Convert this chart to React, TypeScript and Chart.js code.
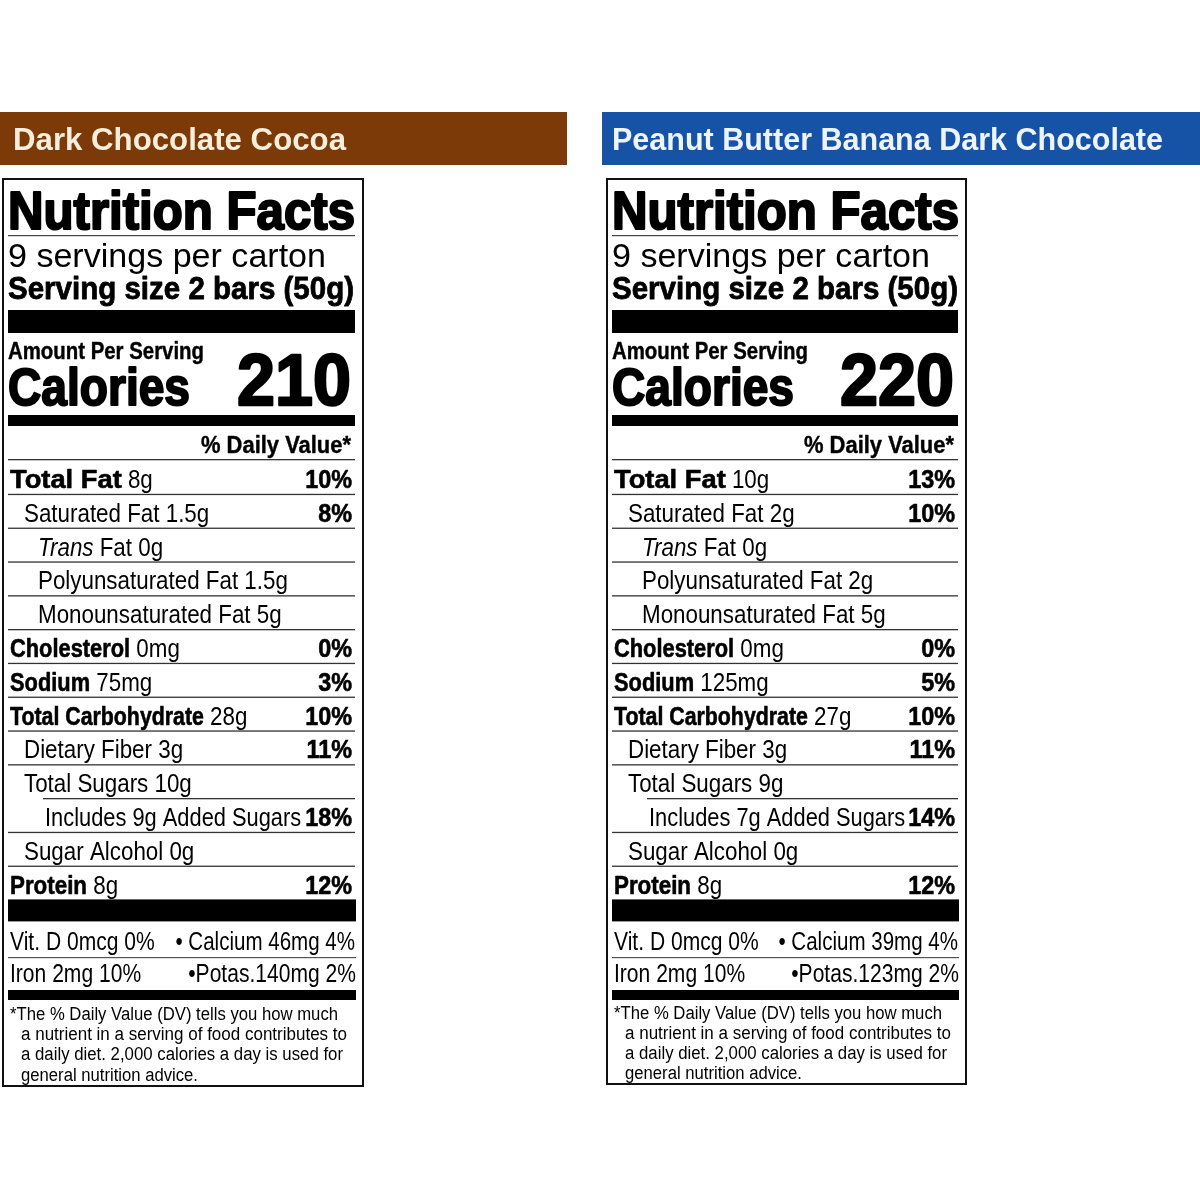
import React, { useEffect, useRef } from "react";
import { Chart, registerables } from "chart.js";

Chart.register(...registerables);

// ---- data ----
const PRODUCTS = ["Dark Chocolate Cocoa", "Peanut Butter Banana Dark Chocolate"];
const CALORIES = [210, 220];
const SERVINGS_PER_CARTON = [9, 9];
const SERVING_SIZE = ["2 bars (50g)", "2 bars (50g)"];

const NUTRIENTS = [
  "Total Fat",
  "Saturated Fat",
  "Trans Fat",
  "Polyunsaturated Fat",
  "Monounsaturated Fat",
  "Cholesterol",
  "Sodium",
  "Total Carbohydrate",
  "Dietary Fiber",
  "Total Sugars",
  "Added Sugars",
  "Sugar Alcohol",
  "Protein",
];
const AMOUNTS_COCOA = ["8g", "1.5g", "0g", "1.5g", "5g", "0mg", "75mg", "28g", "3g", "10g", "9g", "0g", "8g"];
const AMOUNTS_PB = ["10g", "2g", "0g", "2g", "5g", "0mg", "125mg", "27g", "3g", "9g", "7g", "0g", "8g"];
const DV_COCOA = [10, 8, null, null, null, 0, 3, 10, 11, null, 18, null, 12];
const DV_PB = [13, 10, null, null, null, 0, 5, 10, 11, null, 14, null, 12];

const MINERALS = ["Vit. D", "Calcium", "Iron", "Potas."];
const MINERAL_AMOUNTS_COCOA = ["0mcg", "46mg", "2mg", "140mg"];
const MINERAL_AMOUNTS_PB = ["0mcg", "39mg", "2mg", "123mg"];
const MINERAL_DV_COCOA = [0, 4, 10, 2];
const MINERAL_DV_PB = [0, 4, 10, 2];

const FOOTNOTE = [
  "*The % Daily Value (DV) tells you how much",
  "a nutrient in a serving of food contributes to",
  "a daily diet. 2,000 calories a day is used for",
  "general nutrition advice.",
];

const AMOUNTS = [AMOUNTS_COCOA, AMOUNTS_PB];
const DVS = [DV_COCOA, DV_PB];
const MINERAL_AMOUNTS = [MINERAL_AMOUNTS_COCOA, MINERAL_AMOUNTS_PB];
const MINERAL_DVS = [MINERAL_DV_COCOA, MINERAL_DV_PB];

// ---- styling ----
const BANNER_COLORS = ["#7b3a08", "#1652a6"];
const BANNER_TEXT = ["#f7eedc", "#eef4fb"];
const BANNER_X = [0, 602];
const BANNER_W = [567, 598];
const LABEL_LEFT = [8, 612];
const LABEL_RIGHT = [355, 958];
const BOX_H = [907, 905];
const FOOT_TOP = [1020, 1019];
const FOOT_STEP = [20.2, 20.1];

// indent, bold name, horizontal squeeze of the name
const ROW_STYLE = [
  { indent: 0, bold: true, sx: 1.05 },
  { indent: 14, bold: false, sx: 0.86 },
  { indent: 28, bold: false, sx: 0.86, italic: true },
  { indent: 28, bold: false, sx: 0.86 },
  { indent: 28, bold: false, sx: 0.86 },
  { indent: 0, bold: true, sx: 0.84 },
  { indent: 0, bold: true, sx: 0.84 },
  { indent: 0, bold: true, sx: 0.82 },
  { indent: 14, bold: false, sx: 0.86 },
  { indent: 14, bold: false, sx: 0.86 },
  { indent: 35, bold: false, sx: 0.84, includes: true },
  { indent: 14, bold: false, sx: 0.86 },
  { indent: 0, bold: true, sx: 0.86 },
];

const FAMILY = '"Liberation Sans", Arial, Helvetica, sans-serif';
const ROWS_TOP = 460;
const ROW_H = 33.8;

type TxtOpts = {
  size: number;
  bold?: boolean;
  italic?: boolean;
  align?: CanvasTextAlign;
  sx?: number;
  fit?: number;
  color?: string;
  stroke?: number;
};

function txt(ctx: CanvasRenderingContext2D, s: string, x: number, y: number, o: TxtOpts) {
  ctx.font = `${o.italic ? "italic " : ""}${o.bold ? "bold" : "normal"} ${o.size}px ${FAMILY}`;
  const w = ctx.measureText(s).width;
  const sx = o.fit ? o.fit / w : o.sx ?? 1;
  ctx.save();
  ctx.translate(x, y);
  ctx.scale(sx, 1);
  ctx.textAlign = o.align ?? "left";
  ctx.textBaseline = "alphabetic";
  ctx.fillStyle = o.color ?? "#000";
  ctx.fillText(s, 0, 0);
  if (o.stroke) {
    ctx.strokeStyle = o.color ?? "#000";
    ctx.lineWidth = o.stroke;
    ctx.lineJoin = "round";
    ctx.strokeText(s, 0, 0);
  }
  ctx.restore();
  return w * sx;
}

function hline(ctx: CanvasRenderingContext2D, x1: number, x2: number, y: number, h: number, color = "#000") {
  ctx.fillStyle = color;
  ctx.fillRect(x1, y, x2 - x1, h);
}

function drawLabel(ctx: CanvasRenderingContext2D, p: number) {
  const L = LABEL_LEFT[p];
  const R = LABEL_RIGHT[p];

  // banner
  ctx.fillStyle = BANNER_COLORS[p];
  ctx.fillRect(BANNER_X[p], 112, BANNER_W[p], 53);
  txt(ctx, PRODUCTS[p], BANNER_X[p] + (p === 0 ? 13 : 10), 150, {
    size: 31,
    bold: true,
    fit: p === 0 ? 333 : 551,
    color: BANNER_TEXT[p],
  });

  // box
  ctx.strokeStyle = "#111";
  ctx.lineWidth = 2;
  ctx.strokeRect(L - 5, 179, R - L + 13, BOX_H[p]);

  txt(ctx, "Nutrition Facts", L, 229, { size: 54, bold: true, fit: 347, stroke: 2.2 });
  hline(ctx, L, R, 235, 1.2, "#444");
  txt(ctx, `${SERVINGS_PER_CARTON[p]} servings per carton`, L, 267, { size: 33, fit: 318 });
  txt(ctx, `Serving size ${SERVING_SIZE[p]}`, L, 299, { size: 32, bold: true, fit: 346, stroke: 0.8 });
  hline(ctx, L, R, 310, 23);

  txt(ctx, "Amount Per Serving", L, 359, { size: 23, bold: true, fit: 196, stroke: 0.4 });
  txt(ctx, "Calories", L, 405, { size: 51, bold: true, fit: 182, stroke: 2 });
  txt(ctx, String(CALORIES[p]), R - 4, 405, { size: 72, bold: true, align: "right", fit: 114, stroke: 2.4 });
  hline(ctx, L, R, 415, 11);
  txt(ctx, "% Daily Value*", R - 4, 453, { size: 23, bold: true, align: "right", fit: 150, stroke: 0.4 });
  hline(ctx, L, R, 459, 1.3, "#333");

  NUTRIENTS.forEach((name, r) => {
    const st = ROW_STYLE[r];
    const top = ROWS_TOP + r * ROW_H;
    const base = top + 28;
    const amt = AMOUNTS[p][r];
    let x = L + 2 + st.indent;
    if (st.includes) {
      txt(ctx, `Includes ${amt} ${name}`, x, base, { size: 26, sx: st.sx });
    } else if (st.italic) {
      const [first, ...rest] = name.split(" ");
      x += txt(ctx, first, x, base, { size: 26, italic: true, sx: st.sx });
      txt(ctx, ` ${rest.join(" ")} ${amt}`, x, base, { size: 26, sx: st.sx });
    } else {
      x += txt(ctx, name, x, base, { size: 26, bold: st.bold, sx: st.sx, stroke: st.bold ? 0.6 : 0 });
      txt(ctx, ` ${amt}`, x, base, { size: 26, sx: 0.86 });
    }
    const dv = DVS[p][r];
    if (dv !== null) {
      txt(ctx, `${dv}%`, R - 3, base, { size: 26, bold: true, align: "right", sx: 0.9, stroke: 0.6 });
    }
    if (r < NUTRIENTS.length - 1) {
      hline(ctx, r === 9 ? L + 35 : L, R, top + ROW_H, 1.3, "#333");
    }
  });

  const barTop = ROWS_TOP + NUTRIENTS.length * ROW_H;
  hline(ctx, L, R + 1, barTop, 22);

  const ma = MINERAL_AMOUNTS[p];
  const md = MINERAL_DVS[p];
  txt(ctx, `${MINERALS[0]} ${ma[0]} ${md[0]}%`, L + 2, 950, { size: 26, sx: 0.81 });
  txt(ctx, `\u2022 ${MINERALS[1]} ${ma[1]} ${md[1]}%`, R, 950, { size: 26, sx: 0.79, align: "right" });
  hline(ctx, L, R + 1, 957, 1.2, "#555");
  txt(ctx, `${MINERALS[2]} ${ma[2]} ${md[2]}%`, L + 2, 982, { size: 26, sx: 0.81 });
  txt(ctx, `\u2022${MINERALS[3]}${ma[3]} ${md[3]}%`, R + 1, 982, { size: 26, sx: 0.81, align: "right" });
  hline(ctx, L, R + 1, 990, 10);

  const fnWidths = [328, 326, 322, 177];
  FOOTNOTE.forEach((line, k) => {
    txt(ctx, line, k === 0 ? L + 2 : L + 13, FOOT_TOP[p] + k * FOOT_STEP[p], { size: 18, fit: fnWidths[k] });
  });
}

const labelPlugin = {
  id: "nutritionLabels",
  afterDraw(chart: Chart) {
    const ctx = chart.ctx;
    ctx.save();
    PRODUCTS.forEach((_, p) => drawLabel(ctx, p));
    ctx.restore();
  },
};

const App: React.FC = () => {
  const canvasRef = useRef<HTMLCanvasElement | null>(null);

  useEffect(() => {
    if (!canvasRef.current) return;
    const chart = new Chart(canvasRef.current, {
      type: "bar",
      data: { labels: PRODUCTS, datasets: [] },
      options: {
        animation: false,
        responsive: true,
        maintainAspectRatio: false,
        events: [],
        layout: { padding: 0 },
        plugins: { legend: { display: false }, tooltip: { enabled: false } },
        scales: { x: { display: false }, y: { display: false } },
      },
      plugins: [labelPlugin],
    });
    return () => chart.destroy();
  }, []);

  return (
    <div style={{ position: "fixed", left: 0, top: 0, width: 1200, height: 1200, background: "#fff" }}>
      <canvas ref={canvasRef} />
    </div>
  );
};

export default App;
